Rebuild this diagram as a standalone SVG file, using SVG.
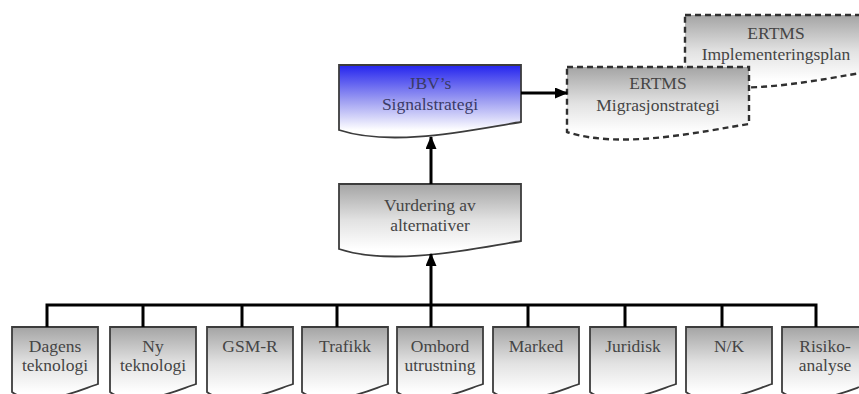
<svg xmlns="http://www.w3.org/2000/svg" xmlns:xlink="http://www.w3.org/1999/xlink" width="859" height="394" viewBox="0 0 859 394">
<defs>
<linearGradient id="gGray" x1="0" y1="0" x2="0" y2="1">
<stop offset="0" stop-color="#a4a4a4"/>
<stop offset="0.5" stop-color="#e2e2e2"/>
<stop offset="0.9" stop-color="#ffffff"/>
</linearGradient>
<linearGradient id="gBlue" x1="0" y1="0" x2="0" y2="1">
<stop offset="0" stop-color="#2424ee"/>
<stop offset="0.5" stop-color="#a0a0f2"/>
<stop offset="0.9" stop-color="#ffffff"/>
</linearGradient>
<path id="docBig" d="M0,0 H182 V57 C136.5,64 54.6,83 0,65 Z"/>
<path id="docSmall" d="M0,0 H86 V57 C64.5,64 25.8,83 0,65 Z"/>
<marker id="arr" markerUnits="userSpaceOnUse" markerWidth="13" markerHeight="11" refX="12" refY="5.5" orient="auto">
<path d="M0,0 L13,5.5 L0,11 Z" fill="#000"/>
</marker>
</defs>
<style>
.box{fill:url(#gGray);stroke:#3c3c3c;stroke-width:1.8}
.blue{fill:url(#gBlue);stroke:#3c3c3c;stroke-width:1.8}
.dash{fill:url(#gGray);stroke:#303030;stroke-width:2.4;stroke-dasharray:6 4}
.t{font-family:"Liberation Serif","Times New Roman",serif;font-size:17.5px;fill:#454545;text-anchor:middle}
.tb{fill:#3a3a66}
.c{fill:none;stroke:#000;stroke-width:3}
</style>

<g id="impl">
<use href="#docBig" x="685" y="15" class="dash"/>
<text class="t" x="776" y="39">ERTMS</text>
<text class="t" x="776" y="60">Implementeringsplan</text>
</g>
<g id="migr">
<use href="#docBig" x="567" y="67" class="dash"/>
<text class="t" x="658" y="89">ERTMS</text>
<text class="t" x="658" y="111">Migrasjonstrategi</text>
</g>
<g id="jbv">
<use href="#docBig" x="339" y="65" class="blue"/>
<text class="t tb" x="430" y="89">JBV’s</text>
<text class="t tb" x="430" y="110">Signalstrategi</text>
</g>
<g id="vurdering">
<use href="#docBig" x="339" y="184" class="box"/>
<text class="t" x="430" y="211">Vurdering av</text>
<text class="t" x="430" y="231">alternativer</text>
</g>

<g id="dagens">
<use href="#docSmall" x="12" y="327" class="box"/>
<text class="t" x="55" y="352">Dagens</text>
<text class="t" x="55" y="371">teknologi</text>
</g>
<g id="ny">
<use href="#docSmall" x="110" y="327" class="box"/>
<text class="t" x="153" y="352">Ny</text>
<text class="t" x="153" y="371">teknologi</text>
</g>
<g id="gsmr">
<use href="#docSmall" x="207" y="327" class="box"/>
<text class="t" x="250" y="352">GSM-R</text>
</g>
<g id="trafikk">
<use href="#docSmall" x="302" y="327" class="box"/>
<text class="t" x="345" y="352">Trafikk</text>
</g>
<g id="ombord">
<use href="#docSmall" x="397" y="327" class="box"/>
<text class="t" x="440" y="352">Ombord</text>
<text class="t" x="440" y="371">utrustning</text>
</g>
<g id="marked">
<use href="#docSmall" x="493" y="327" class="box"/>
<text class="t" x="536" y="352">Marked</text>
</g>
<g id="juridisk">
<use href="#docSmall" x="590" y="327" class="box"/>
<text class="t" x="633" y="352">Juridisk</text>
</g>
<g id="nk">
<use href="#docSmall" x="686" y="327" class="box"/>
<text class="t" x="729" y="352">N/K</text>
</g>
<g id="risiko">
<use href="#docSmall" x="782" y="327" class="box"/>
<text class="t" x="825" y="352">Risiko-</text>
<text class="t" x="825" y="371">analyse</text>
</g>

<g id="connectors">
<path class="c" d="M47,327 V305 H816 V327 M143,305 V327 M242,305 V327 M337,305 V327 M431,305 V327 M528,305 V327 M625,305 V327 M722,305 V327"/>
<line class="c" x1="431" y1="305" x2="431" y2="254" marker-end="url(#arr)"/>
<line class="c" x1="431" y1="184" x2="431" y2="137" marker-end="url(#arr)"/>
<line class="c" x1="521" y1="93" x2="567" y2="93" marker-end="url(#arr)"/>
</g>
</svg>
